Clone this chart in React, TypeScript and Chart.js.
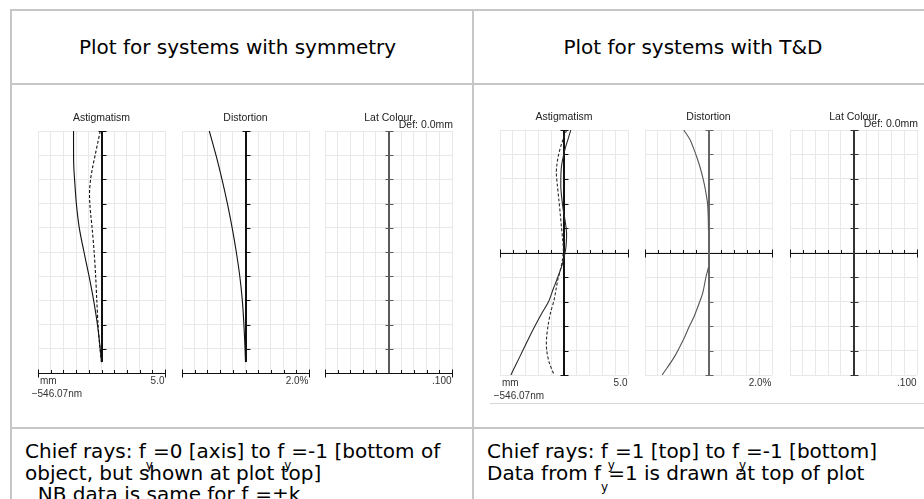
import React, { useEffect, useRef } from "react";
import { Chart, registerables } from "chart.js";

Chart.register(...registerables);

// ---------------- Data ----------------
// Left image: system with symmetry. Field 0 (axis) at bottom to 1 at top.
const symAstigTanField = [1.0, 0.9, 0.85, 0.8, 0.7, 0.6, 0.5, 0.4, 0.3, 0.2, 0.1, 0.045];
const symAstigTanFocus = [-2.2, -2.2, -2.18, -2.12, -1.98, -1.75, -1.38, -0.98, -0.62, -0.32, -0.1, 0];
const symAstigSagField = [1.0, 0.95, 0.9, 0.85, 0.8, 0.75, 0.7, 0.65, 0.6, 0.5, 0.4, 0.3, 0.2, 0.1, 0.045];
const symAstigSagFocus = [-0.1, -0.3, -0.5, -0.7, -0.86, -0.94, -0.92, -0.84, -0.74, -0.58, -0.46, -0.37, -0.27, -0.12, 0];
const symDistField = [1.0, 0.9, 0.8, 0.7, 0.6, 0.5, 0.4, 0.3, 0.2, 0.1, 0.045];
const symDistPct = [-1.14, -0.93, -0.74, -0.57, -0.42, -0.29, -0.18, -0.1, -0.05, -0.015, 0];

// Right image: system with tilts & decentres. Field +1 at top to -1 at bottom.
const tdAstigTanField = [1.0, 0.92, 0.84, 0.7, 0.54, 0.45, 0.35, 0.25, 0.16, 0.08, 0.02, -0.05, -0.12, -0.22, -0.3, -0.4, -0.49, -0.6, -0.71, -0.85, -1.0];
const tdAstigTanFocus = [0.53, 0.3, 0.07, -0.2, -0.25, -0.18, -0.06, 0.1, 0.2, 0.18, 0.12, -0.02, -0.2, -0.55, -0.85, -1.2, -1.7, -2.27, -2.8, -3.45, -4.15];
const tdAstigSagField = [1.0, 0.9, 0.8, 0.72, 0.65, 0.55, 0.43, 0.3, 0.21, 0.1, 0.03, -0.06, -0.14, -0.22, -0.3, -0.39, -0.49, -0.6, -0.71, -0.8, -0.9, -1.0];
const tdAstigSagFocus = [0.2, -0.15, -0.42, -0.55, -0.6, -0.52, -0.4, -0.28, -0.2, -0.1, -0.05, -0.12, -0.28, -0.48, -0.62, -0.78, -1.05, -1.25, -1.37, -1.35, -1.15, -0.77];
const tdDistUpperField = [1.0, 0.92, 0.85, 0.78, 0.7, 0.59, 0.5, 0.4, 0.3, 0.18];
const tdDistUpperPct = [-0.78, -0.58, -0.47, -0.37, -0.27, -0.16, -0.09, -0.03, -0.01, 0];
const tdDistLowerField = [-0.12, -0.2, -0.33, -0.39, -0.52, -0.6, -0.7, -0.85, -1.0];
const tdDistLowerPct = [0, -0.08, -0.18, -0.26, -0.45, -0.6, -0.77, -1.07, -1.46];

// Labels
const panelTitles = ["Astigmatism", "Distortion", "Lat Colour"];
const scaleEndLabels = ["5.0", "2.0%", ".100"];
const xMaxValues = [5, 2, 0.1];
const unitLabel = "mm";
const waveLabel = "\u2212546.07nm";
const defocusLabel = "Def: 0.0mm";
const headerLabels = ["Plot for systems with symmetry", "Plot for systems with T&D"];

// ---------------- Layout / style ----------------
const FONT_UI = '"DejaVu Sans", Verdana, sans-serif';
const FONT_PLOT = '"Liberation Sans", Arial, sans-serif';
const ML = 12, MR = 12, MT = 20, MB = 30;
const GRID = "#e8e8e8";
const BORDER = "#c6c6c6";

type Series = { xs: number[]; ys: number[]; color: string; dash?: number[]; width?: number };
type Panel = {
  key: string;
  left: number; top: number; width: number; height: number;
  xMax: number; yMin: number; yMax: number;
  vAxisFrom: number; vAxisColor: string; tickBoth: boolean;
  title: string; def?: string; endLabel: string; units: boolean;
  series: Series[];
};

function makeOverlay(p: Panel) {
  return {
    id: "opticAxes" + p.key,
    beforeDatasetsDraw(chart: any) {
      const ctx = chart.ctx as CanvasRenderingContext2D;
      const xs = chart.scales.x;
      const ys = chart.scales.y;
      const ca = chart.chartArea;
      ctx.save();
      // horizontal axis at field 0
      const hy = Math.round(ys.getPixelForValue(0)) + 0.5;
      ctx.strokeStyle = "#111";
      ctx.lineWidth = 1;
      ctx.beginPath();
      ctx.moveTo(ca.left, hy);
      ctx.lineTo(ca.right + 1, hy);
      ctx.stroke();
      const nx = xs.ticks.length;
      xs.ticks.forEach((t: any, i: number) => {
        const px = Math.round(xs.getPixelForValue(t.value)) + 0.5;
        const end = i === 0 || i === nx - 1;
        ctx.beginPath();
        ctx.moveTo(px, end ? hy - 4 : hy - 3.5);
        ctx.lineTo(px, end ? hy + 4 : hy);
        ctx.stroke();
      });
      // vertical axis at x = 0
      const vx = Math.round(xs.getPixelForValue(0));
      ctx.strokeStyle = p.vAxisColor;
      ctx.lineWidth = 2;
      ctx.beginPath();
      ctx.moveTo(vx, ys.getPixelForValue(p.vAxisFrom));
      ctx.lineTo(vx, ys.getPixelForValue(p.yMax));
      ctx.stroke();
      ctx.lineWidth = 1;
      ys.ticks.forEach((t: any) => {
        if (Math.abs(t.value) < 1e-9) return;
        if (t.value < p.vAxisFrom - 1e-9) return;
        const py = Math.round(ys.getPixelForValue(t.value)) + 0.5;
        const end = Math.abs(t.value - p.yMax) < 1e-9 || Math.abs(t.value - p.yMin) < 1e-9;
        const l = end || p.tickBoth ? 3.5 : 0;
        ctx.beginPath();
        ctx.moveTo(vx - l, py);
        ctx.lineTo(vx + 4.5, py);
        ctx.stroke();
      });
      ctx.restore();
    },
    afterDraw(chart: any) {
      const ctx = chart.ctx as CanvasRenderingContext2D;
      const ca = chart.chartArea;
      ctx.save();
      ctx.textBaseline = "middle";
      ctx.fillStyle = "#222";
      ctx.font = `10.5px ${FONT_PLOT}`;
      ctx.textAlign = "center";
      ctx.fillText(p.title, (ca.left + ca.right) / 2, ca.top - 13);
      if (p.def) {
        ctx.textAlign = "right";
        ctx.fillText(p.def, ca.right + 1, ca.top - 5.5);
      }
      ctx.font = `10px ${FONT_PLOT}`;
      ctx.fillStyle = "#333";
      ctx.textAlign = "right";
      ctx.fillText(p.endLabel, ca.right - 0.5, ca.bottom + 8);
      if (p.units) {
        ctx.textAlign = "left";
        ctx.fillText(unitLabel, ca.left + 2, ca.bottom + 8);
        ctx.fillText(waveLabel, ca.left - 6.3, ca.bottom + 21);
      }
      ctx.restore();
    },
  };
}

function PlotPanel({ p }: { p: Panel }) {
  const ref = useRef<HTMLCanvasElement>(null);
  const W = p.width + ML + MR;
  const H = p.height + MT + MB;
  useEffect(() => {
    if (!ref.current) return;
    const chart = new Chart(ref.current, {
      type: "scatter",
      data: {
        datasets: p.series.map((s) => ({
          data: s.xs.map((x, i) => ({ x, y: s.ys[i] })),
          showLine: true,
          pointRadius: 0,
          borderColor: s.color,
          borderWidth: s.width ?? 1.1,
          borderDash: s.dash ?? [],
          tension: 0.3,
          fill: false,
        })),
      },
      options: {
        animation: false,
        responsive: false,
        maintainAspectRatio: false,
        events: [],
        layout: { padding: { left: ML, right: MR, top: MT, bottom: MB } },
        plugins: { legend: { display: false }, tooltip: { enabled: false }, title: { display: false } },
        scales: {
          x: {
            type: "linear",
            min: -p.xMax,
            max: p.xMax,
            ticks: { display: false, stepSize: p.xMax / 5 },
            grid: { color: GRID, drawTicks: false, lineWidth: 1 },
            border: { display: false },
          },
          y: {
            type: "linear",
            min: p.yMin,
            max: p.yMax,
            ticks: { display: false, stepSize: (p.yMax - p.yMin) / 10 },
            grid: { color: GRID, drawTicks: false, lineWidth: 1 },
            border: { display: false },
          },
        },
      },
      plugins: [makeOverlay(p)],
    } as any);
    return () => chart.destroy();
  }, []);
  return (
    <canvas
      ref={ref}
      width={W}
      height={H}
      style={{ position: "absolute", left: p.left - ML, top: p.top - MT, width: W, height: H }}
    />
  );
}

const BLACK = "#111";
const panels: Panel[] = [
  {
    key: "sA", left: 38, top: 131, width: 127, height: 242, xMax: xMaxValues[0], yMin: 0, yMax: 1,
    vAxisFrom: 0.045, vAxisColor: "#111", tickBoth: false, title: panelTitles[0], endLabel: scaleEndLabels[0], units: true,
    series: [
      { xs: symAstigTanFocus, ys: symAstigTanField, color: BLACK },
      { xs: symAstigSagFocus, ys: symAstigSagField, color: BLACK, dash: [3, 2] },
    ],
  },
  {
    key: "sD", left: 182, top: 131, width: 127, height: 242, xMax: xMaxValues[1], yMin: 0, yMax: 1,
    vAxisFrom: 0.045, vAxisColor: "#111", tickBoth: false, title: panelTitles[1], endLabel: scaleEndLabels[1], units: false,
    series: [{ xs: symDistPct, ys: symDistField, color: BLACK }],
  },
  {
    key: "sL", left: 325, top: 131, width: 127, height: 242, xMax: xMaxValues[2], yMin: 0, yMax: 1,
    vAxisFrom: 0, vAxisColor: "#5a5a5a", tickBoth: true, title: panelTitles[2], def: defocusLabel, endLabel: scaleEndLabels[2], units: false,
    series: [],
  },
  {
    key: "tA", left: 500, top: 130, width: 128, height: 245, xMax: xMaxValues[0], yMin: -1, yMax: 1,
    vAxisFrom: -1, vAxisColor: "#111", tickBoth: false, title: panelTitles[0], endLabel: scaleEndLabels[0], units: true,
    series: [
      { xs: tdAstigTanFocus, ys: tdAstigTanField, color: "#2a2a2a" },
      { xs: tdAstigSagFocus, ys: tdAstigSagField, color: "#2a2a2a", dash: [3, 2] },
    ],
  },
  {
    key: "tD", left: 645, top: 130, width: 127, height: 245, xMax: xMaxValues[1], yMin: -1, yMax: 1,
    vAxisFrom: -1, vAxisColor: "#666", tickBoth: false, title: panelTitles[1], endLabel: scaleEndLabels[1], units: false,
    series: [
      { xs: tdDistUpperPct, ys: tdDistUpperField, color: "#555" },
      { xs: tdDistLowerPct, ys: tdDistLowerField, color: "#555" },
    ],
  },
  {
    key: "tL", left: 790, top: 130, width: 127, height: 245, xMax: xMaxValues[2], yMin: -1, yMax: 1,
    vAxisFrom: -1, vAxisColor: "#333", tickBoth: true, title: panelTitles[2], def: defocusLabel, endLabel: scaleEndLabels[2], units: false,
    series: [],
  },
];

const Sub = () => (
  <span style={{ fontSize: 12, position: "relative", top: 11, lineHeight: 0 }}>y</span>
);

function Line({ left, top, width, height }: { left: number; top: number; width: number; height: number }) {
  return <div style={{ position: "absolute", left, top, width, height, background: BORDER }} />;
}

export default function App() {
  const textStyle: React.CSSProperties = {
    position: "absolute",
    fontFamily: FONT_UI,
    fontSize: 20,
    lineHeight: "21.5px",
    color: "#000",
    whiteSpace: "nowrap",
  };
  return (
    <div style={{ position: "absolute", left: 0, top: 0, width: 924, height: 499, overflow: "hidden", background: "#fff" }}>
      <Line left={10} top={9} width={914} height={2} />
      <Line left={10} top={9} width={2} height={490} />
      <Line left={472} top={9} width={2} height={490} />
      <Line left={10} top={83} width={914} height={2} />
      <Line left={10} top={427} width={914} height={2} />
      <div style={{ position: "absolute", left: 490, top: 403, width: 434, height: 1, background: "#d6d6d6" }} />

      <div style={{ ...textStyle, left: 37.5, width: 400, top: 37, textAlign: "center" }}>{headerLabels[0]}</div>
      <div style={{ ...textStyle, left: 493, width: 400, top: 37, textAlign: "center" }}>{headerLabels[1]}</div>

      {panels.map((p) => (
        <PlotPanel key={p.key} p={p} />
      ))}

      <div style={{ ...textStyle, left: 25, top: 441 }}>
        Chief rays: f<Sub />=0 [axis] to f<Sub />=-1 [bottom of
        <br />
        object, but shown at plot top]
        <br />
        {"\u00a0\u00a0"}NB data is same for f<Sub />=±k
      </div>
      <div style={{ ...textStyle, left: 487, top: 441 }}>
        Chief rays: f<Sub />=1 [top] to f<Sub />=-1 [bottom]
        <br />
        Data from f<Sub />=1 is drawn at top of plot
      </div>
    </div>
  );
}
